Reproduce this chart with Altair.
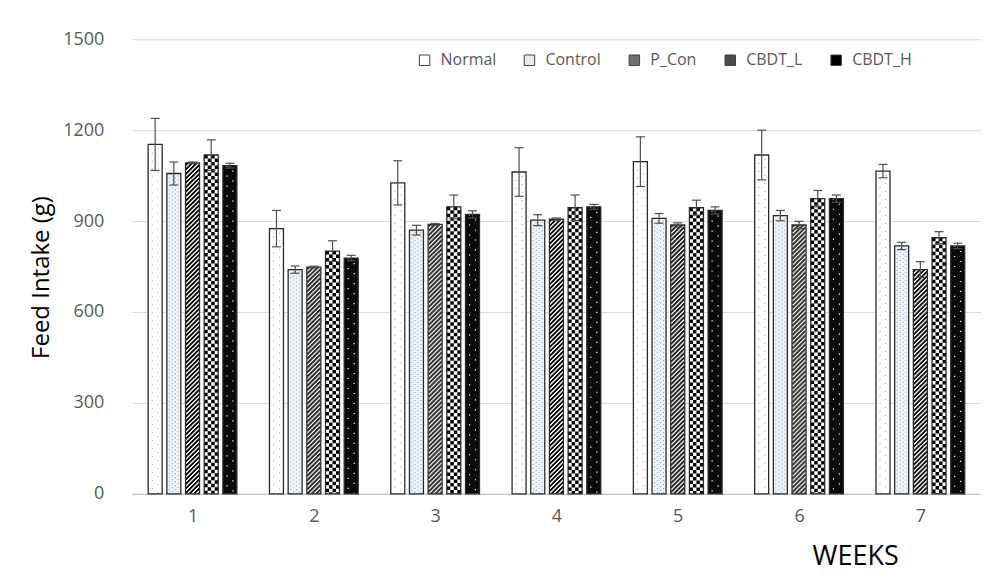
import altair as alt
import pandas as pd

# ---------------- data ----------------
weeks = [1, 2, 3, 4, 5, 6, 7]
series = ["Normal", "Control", "P_Con", "CBDT_L", "CBDT_H"]

normal = [1153, 875, 1026, 1062, 1096, 1118, 1065]
normal_err = [86, 60, 73, 80, 82, 82, 22]
control = [1057, 740, 870, 903, 909, 918, 818]
control_err = [38, 12, 16, 18, 16, 17, 12]
p_con = [1092, 748, 889, 906, 887, 887, 740]
p_con_err = [3, 3, 3, 4, 7, 12, 26]
cbdt_l = [1118, 801, 947, 944, 944, 974, 845]
cbdt_l_err = [50, 34, 39, 42, 25, 27, 20]
cbdt_h = [1083, 778, 922, 947, 935, 974, 818]
cbdt_h_err = [8, 9, 12, 8, 12, 12, 9]

y_ticks = [0, 300, 600, 900, 1200, 1500]

values = {"Normal": normal, "Control": control, "P_Con": p_con,
          "CBDT_L": cbdt_l, "CBDT_H": cbdt_h}
errors = {"Normal": normal_err, "Control": control_err, "P_Con": p_con_err,
          "CBDT_L": cbdt_l_err, "CBDT_H": cbdt_h_err}

rows = []
for k, s in enumerate(series):
    for i, w in enumerate(weeks):
        rows.append({"week": w, "series": s, "k": k,
                     "value": values[s][i], "err": errors[s][i]})
df = pd.DataFrame(rows)

# ---------------- layout / style ----------------
PW, PH = 850, 455
UNIT = PW / 7.0            # pixels per week
STEP = 18.7 / UNIT         # spacing between bars of a group
HALF = 7.0 / UNIT          # half bar width
FONT = "Open Sans"

x_scale = alt.Scale(domain=[0.5, 7.5], nice=False, zero=False)
y_scale = alt.Scale(domain=[0, 1500], nice=False)

x_axis = alt.Axis(values=weeks, format="d", grid=False, ticks=False, tickSize=0,
                  domainColor="#bfbfbf", domainWidth=1,
                  labelColor="#595959", labelFontSize=18, labelFont=FONT,
                  labelPadding=14,
                  title="WEEKS", titleFont=FONT, titleFontSize=27,
                  titleFontWeight="normal", titleColor="#000000",
                  titleX=724, titleY=71, titleAngle=0, titleAlign="center",
                  titleBaseline="alphabetic")
y_axis = alt.Axis(values=y_ticks, format="d", grid=True, gridColor="#d9d9d9", gridWidth=1,
                  domain=False, ticks=False, tickSize=0,
                  labelColor="#595959", labelFontSize=18, labelFont=FONT,
                  labelPadding=28,
                  title="Feed Intake (g)", titleFont=FONT, titleFontSize=24,
                  titleFontWeight="normal", titleColor="#000000",
                  titleX=-78, titleY=238, titleAngle=270, titleAlign="center",
                  titleBaseline="bottom")


def X(field):
    return alt.X(field, scale=x_scale, axis=x_axis)


def Y(field):
    return alt.Y(field, scale=y_scale, axis=y_axis)


base = alt.Chart(df).transform_calculate(
    xc=f"datum.week + (datum.k - 2) * {STEP}",
    x0=f"datum.week + (datum.k - 2) * {STEP} - {HALF}",
    x1=f"datum.week + (datum.k - 2) * {STEP} + {HALF}",
    lo="datum.value - datum.err",
    hi="datum.value + datum.err",
    zero="0",
)

layers = []

# legend carrier (invisible marks, legend only)
legend_colors = ["#ffffff", "#e4eaf0", "#707070", "#4a4a4a", "#000000"]
layers.append(
    base.mark_square(opacity=0, size=10).encode(
        x=X("xc:Q"), y=Y("value:Q"),
        fill=alt.Fill("series:N", scale=alt.Scale(domain=series, range=legend_colors),
                      legend=alt.Legend(title=None, orient="none", legendX=285, legendY=13,
                                        direction="horizontal", columns=5,
                                        symbolType="square", symbolSize=110,
                                        symbolStrokeColor="#404040", symbolStrokeWidth=1,
                                        symbolOpacity=1,
                                        labelFont=FONT, labelFontSize=16,
                                        labelColor="#595959", labelOffset=8,
                                        columnPadding=25, padding=0)),
    )
)

# base fills
base_fill = ["#ffffff", "#eef3f8", "#ffffff", "#ffffff", "#0a0a0a"]
layers.append(
    base.mark_bar(strokeWidth=0).encode(
        x=X("x0:Q"), x2="x1:Q", y=Y("value:Q"), y2="zero:Q",
        color=alt.Color("series:N", scale=alt.Scale(domain=series, range=base_fill),
                        legend=None),
    )
)


def pattern(s, px, color, width, dash, offset):
    return base.transform_filter(f"datum.series == '{s}'").transform_calculate(
        xp=f"datum.xc + {px / UNIT}"
    ).mark_rule(color=color, strokeWidth=width, strokeDash=dash,
                strokeDashOffset=offset).encode(
        x=X("xp:Q"), y=Y("value:Q"), y2="zero:Q")


# Normal: sparse grey dots
for j, px in enumerate([-3, 3]):
    layers.append(pattern("Normal", px, "#a0a0a0", 1, [1, 7], 4 * j))
# Control: denser bluish dots
for j, px in enumerate([-4.5, -1.5, 1.5, 4.5]):
    layers.append(pattern("Control", px, "#8d9db0", 1, [1, 3], 2 * (j % 2)))
# P_Con: diagonal hatch
for j in range(13):
    layers.append(pattern("P_Con", j - 6, "#000000", 1.1, [2.5, 2], j))
# CBDT_L: checkerboard
for j, px in enumerate([-5.25, -1.75, 1.75, 5.25]):
    layers.append(pattern("CBDT_L", px, "#000000", 3.5, [3.5, 3.5], 3.5 * (j % 2)))
# CBDT_H: white dots on black
for j, px in enumerate([-3, 3]):
    layers.append(pattern("CBDT_H", px, "#ffffff", 1.2, [1.2, 8.8], 5 * j))

# outlines
layers.append(
    base.mark_bar(fillOpacity=0, stroke="#2a2a2a", strokeWidth=1.3).encode(
        x=X("x0:Q"), x2="x1:Q", y=Y("value:Q"), y2="zero:Q")
)

# error bars
layers.append(
    base.mark_rule(color="#505050", strokeWidth=1.2).encode(
        x=X("xc:Q"), y=Y("lo:Q"), y2="hi:Q")
)
for f in ["hi:Q", "lo:Q"]:
    layers.append(
        base.mark_tick(orient="horizontal", size=9, thickness=1.2,
                       color="#505050", opacity=1).encode(
            x=X("xc:Q"), y=Y(f))
    )

chart = alt.layer(*layers).properties(
    width=PW, height=PH,
    autosize=alt.AutoSizeParams(type="none"),
    padding={"left": 124, "top": 31, "right": 0, "bottom": 80},
).configure_view(stroke=None)

chart.save("out.html", embed_options={"renderer": "svg", "actions": False})
